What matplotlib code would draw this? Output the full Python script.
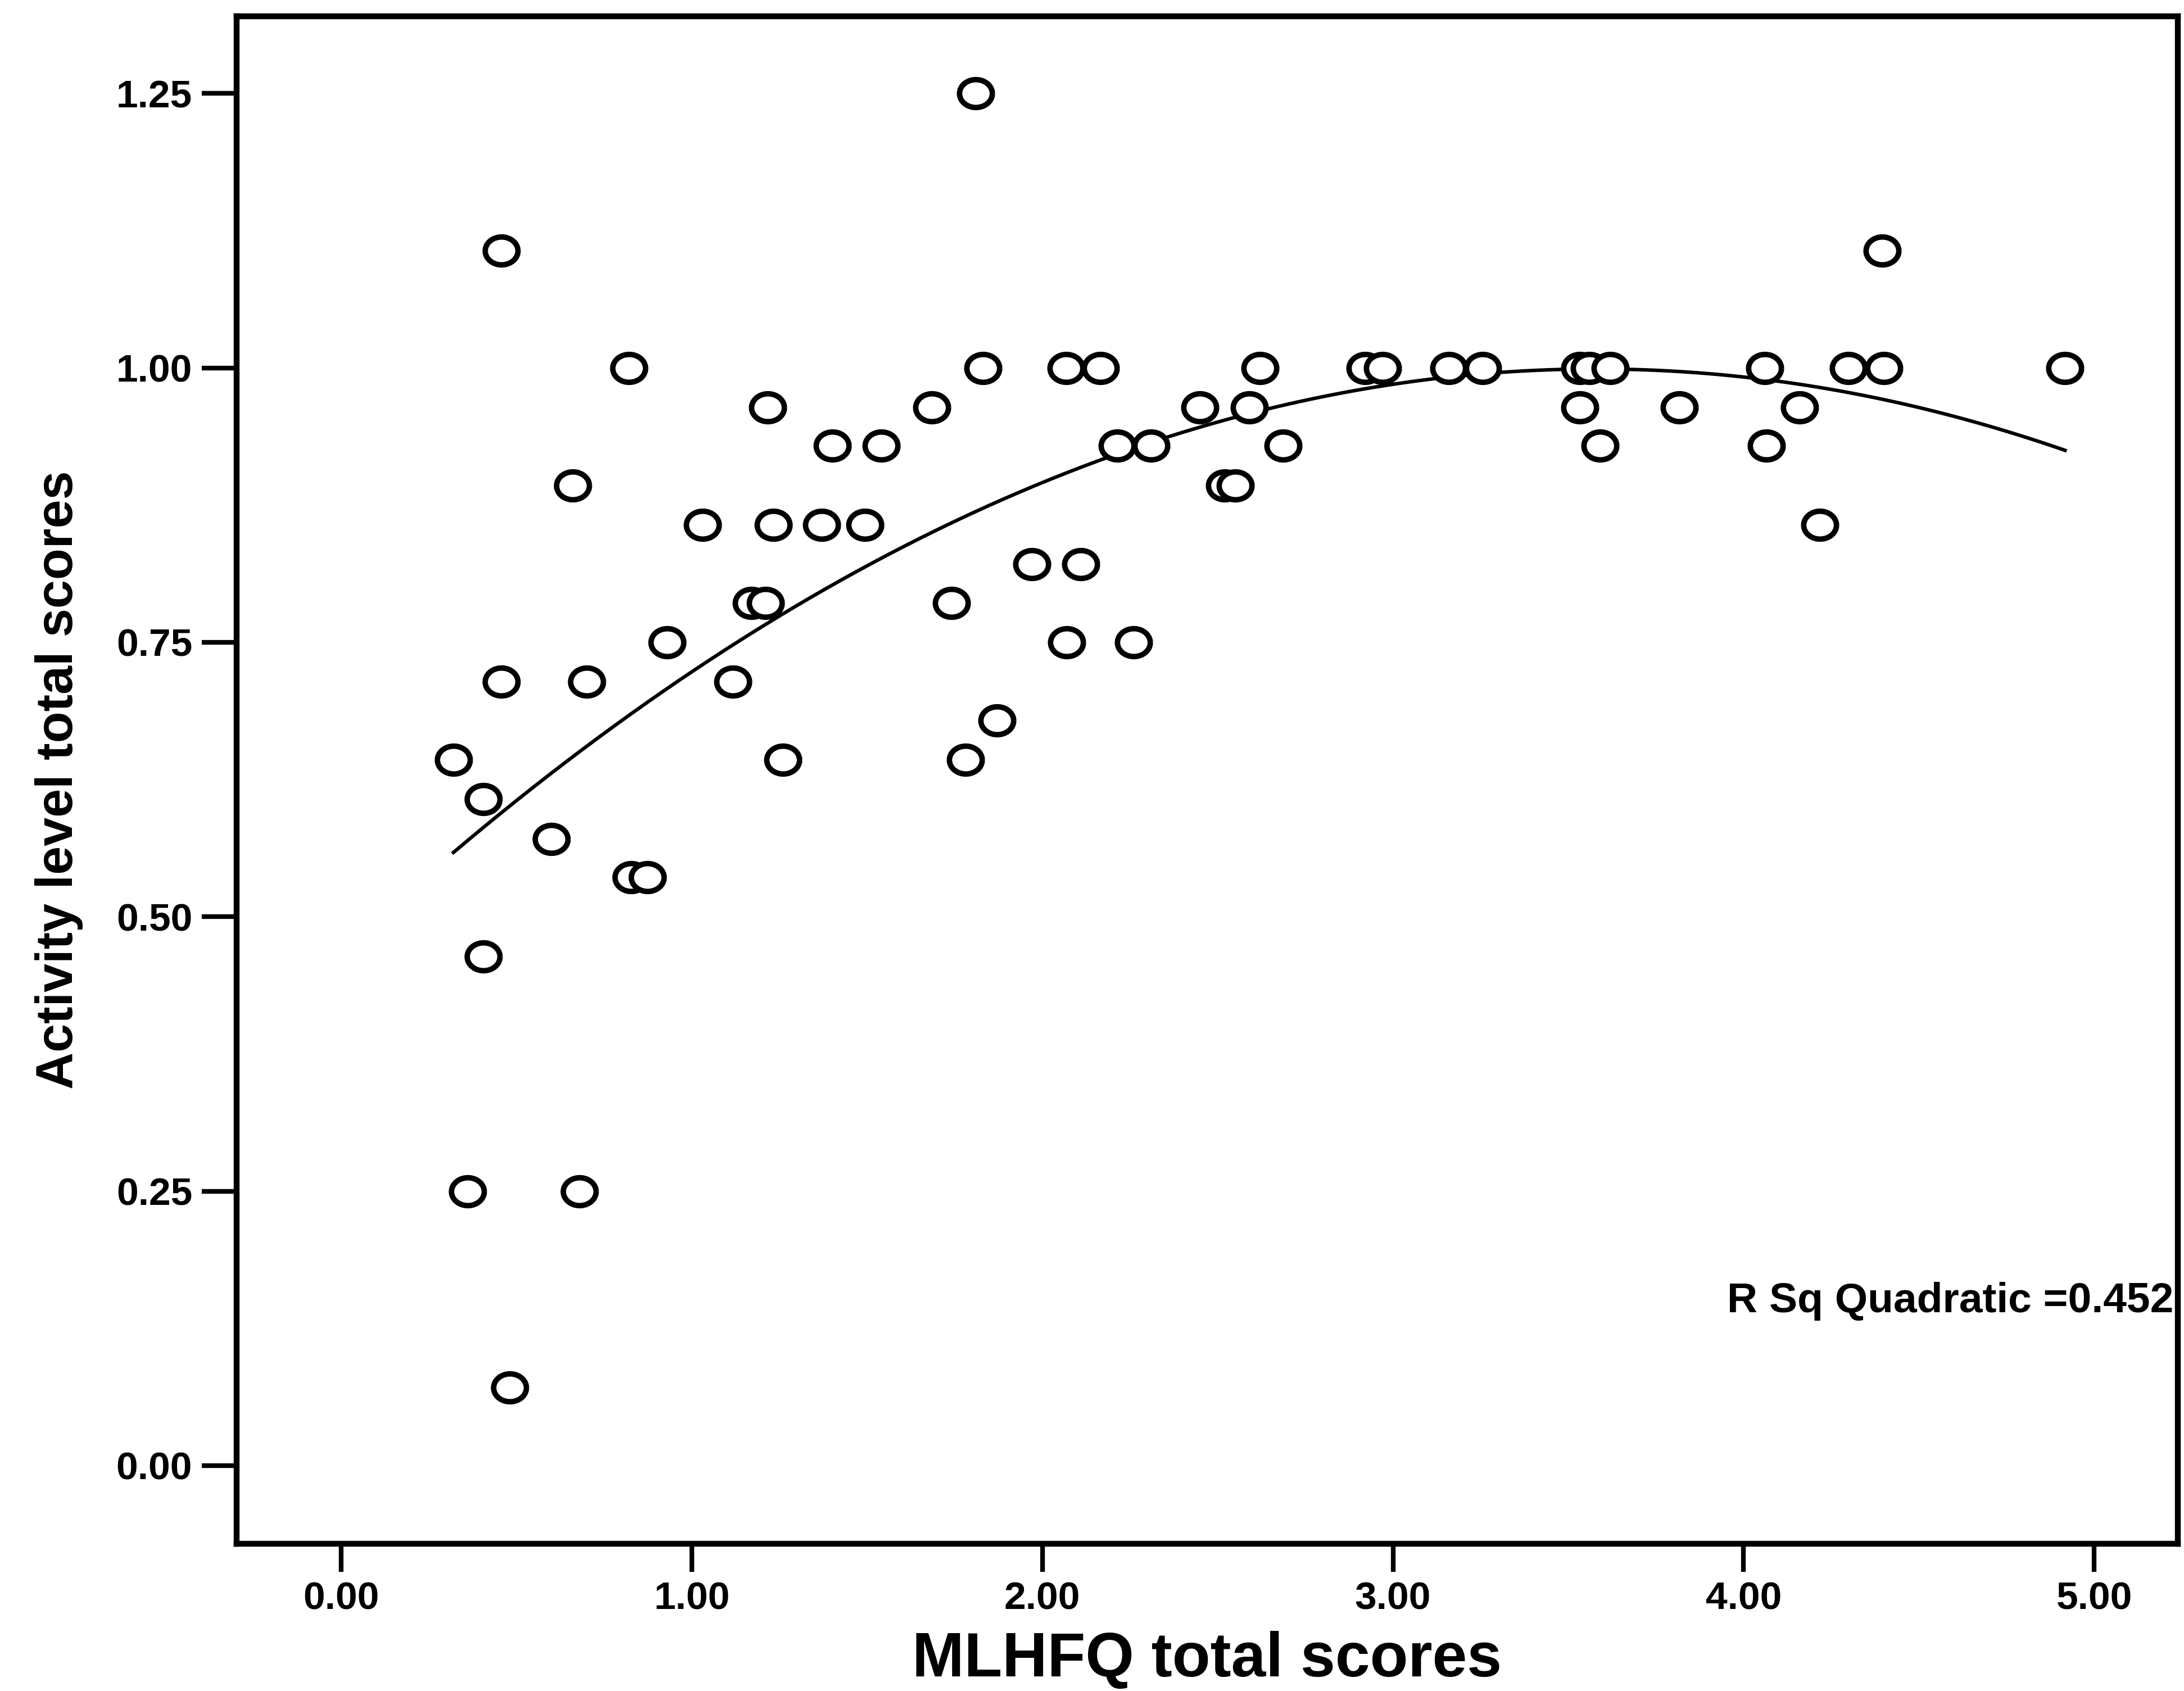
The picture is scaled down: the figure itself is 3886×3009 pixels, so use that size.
import numpy as np
import matplotlib
matplotlib.use("Agg")
import matplotlib.pyplot as plt
from matplotlib.path import Path

# ---- data ----
mlhfq = [0.32, 0.36, 0.405, 0.405, 0.457, 0.457, 0.48, 0.60, 0.66, 0.68,
         0.70, 0.82, 0.827, 0.874, 0.93, 1.03, 1.117, 1.17, 1.21, 1.216,
         1.232, 1.26, 1.37, 1.40, 1.494, 1.54, 1.685, 1.74, 1.78, 1.81,
         1.83, 1.87, 1.97, 2.067, 2.07, 2.11, 2.166, 2.214, 2.26, 2.31,
         2.45, 2.52, 2.55, 2.59, 2.62, 2.687, 2.92, 2.97, 3.16, 3.255,
         3.533, 3.533, 3.56, 3.59, 3.62, 3.816, 4.06, 4.066, 4.16, 4.217,
         4.30, 4.396, 4.40, 4.917]
activity = [0.643, 0.25, 0.607, 0.464, 1.107, 0.714, 0.071, 0.571, 0.893, 0.25,
            0.714, 1.0, 0.536, 0.536, 0.75, 0.857, 0.714, 0.786, 0.786, 0.964,
            0.857, 0.643, 0.857, 0.929, 0.857, 0.929, 0.964, 0.786, 0.643, 1.25,
            1.0, 0.679, 0.821, 1.0, 0.75, 0.821, 1.0, 0.929, 0.75, 0.929,
            0.964, 0.893, 0.893, 0.964, 1.0, 0.929, 1.0, 1.0, 1.0, 1.0,
            0.964, 1.0, 1.0, 0.929, 1.0, 0.964, 1.0, 0.929, 0.964, 0.857,
            1.0, 1.107, 1.0, 1.0]
x_ticks = [0.0, 1.0, 2.0, 3.0, 4.0, 5.0]
y_ticks = [0.0, 0.25, 0.50, 0.75, 1.00, 1.25]
x_label = "MLHFQ total scores"
y_label = "Activity level total scores"
r2_text = "R Sq Quadratic =0.452"

plt.rcParams['font.family'] = ['Liberation Sans', 'DejaVu Sans']
plt.rcParams['font.weight'] = 'bold'

fig = plt.figure(figsize=(38.87, 30.09), dpi=100)
ax = fig.add_axes([0.1084, 0.0872, 0.8884, 0.9030])

# slightly wide open-circle marker like the original
theta = np.linspace(0, 2 * np.pi, 120)
ell = Path(np.column_stack([np.cos(theta), 0.85 * np.sin(theta)]))

ax.plot(mlhfq, activity, linestyle='none', marker=ell, markersize=42,
        markerfacecolor='white', markeredgecolor='black', markeredgewidth=7,
        zorder=3)

# quadratic fit line
coef = np.polyfit(mlhfq, activity, 2)
xs = np.linspace(min(mlhfq), max(mlhfq), 300)
ax.plot(xs, np.polyval(coef, xs), color='black', linewidth=4.5, zorder=2)

ax.set_xlim(-0.298, 5.238)
ax.set_ylim(-0.071, 1.32)
ax.set_xticks(x_ticks)
ax.set_yticks(y_ticks)
ax.set_xticklabels([f"{v:.2f}" for v in x_ticks])
ax.set_yticklabels([f"{v:.2f}" for v in y_ticks])

for s in ax.spines.values():
    s.set_linewidth(7.5)
    s.set_color('black')

ax.tick_params(axis='x', direction='out', length=36, width=6, labelsize=50, pad=12)
ax.tick_params(axis='y', direction='out', length=45, width=6, labelsize=50, pad=12)

ax.set_xlabel(x_label, fontsize=80, fontweight='bold', labelpad=18)
ax.set_ylabel(y_label, fontsize=66, fontweight='bold', labelpad=42)

ax.text(0.998, 0.1586, r2_text, transform=ax.transAxes, ha='right', va='center',
        fontsize=54, fontweight='bold')

fig.savefig("out.png", dpi=100, facecolor='white')
